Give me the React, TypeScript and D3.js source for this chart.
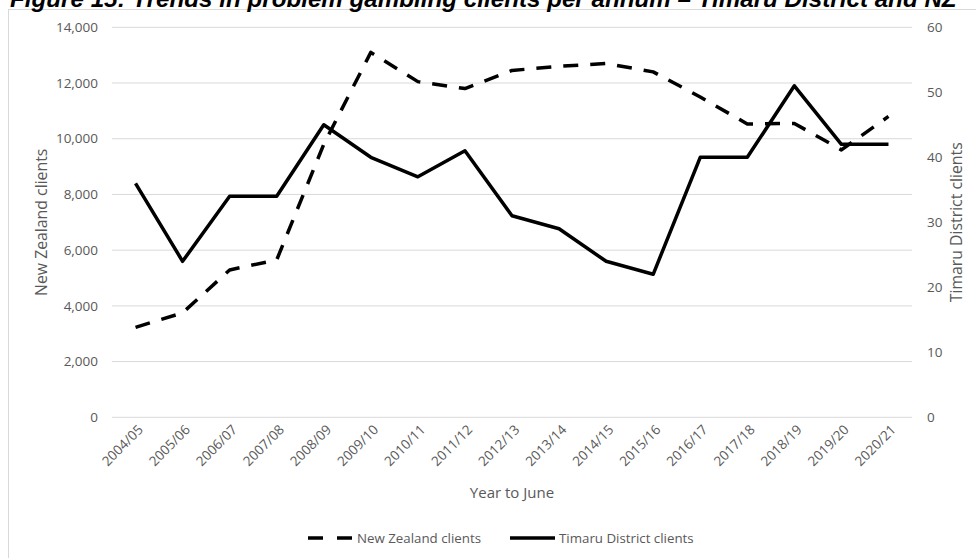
import React from "react";
import * as d3 from "d3";

// Financial years (year to June)
const years = [
  "2004/05", "2005/06", "2006/07", "2007/08", "2008/09", "2009/10",
  "2010/11", "2011/12", "2012/13", "2013/14", "2014/15", "2015/16",
  "2016/17", "2017/18", "2018/19", "2019/20", "2020/21",
];

// Problem gambling clients, New Zealand (left axis)
const nzClients = [
  3230, 3750, 5290, 5650, 9800, 13100, 12050, 11800, 12450,
  12600, 12700, 12400, 11500, 10530, 10550, 9600, 10800,
];

// Problem gambling clients, Timaru District (right axis)
const timaruClients = [
  36, 24, 34, 34, 45, 40, 37, 41, 31, 29, 24, 22, 40, 40, 51, 42, 42,
];

const leftTicks = [0, 2000, 4000, 6000, 8000, 10000, 12000, 14000];
const rightTicks = [0, 10, 20, 30, 40, 50, 60];

const W = 976;
const H = 558;
const plot = { left: 112, right: 912, top: 27.3, bottom: 417.3 };

const FONT = "'Open Sans', 'Noto Sans', sans-serif";
const GREY = "#595959";
const GRID = "#d9d9d9";

export default function App() {
  const x = d3.scalePoint<string>().domain(years).range([plot.left, plot.right]).padding(0.5);
  const yL = d3.scaleLinear().domain([0, 14000]).range([plot.bottom, plot.top]);
  const yR = d3.scaleLinear().domain([0, 60]).range([plot.bottom, plot.top]);

  const nzLine = d3
    .line<number>()
    .x((_, i) => x(years[i]) as number)
    .y((d) => yL(d));

  const timaruLine = d3
    .line<number>()
    .x((_, i) => x(years[i]) as number)
    .y((d) => yR(d));

  const fmt = d3.format(",");
  const midY = (plot.top + plot.bottom) / 2;
  const dash = "15 12";

  return (
    <svg
      width={W}
      height={H}
      style={{ position: "absolute", left: 0, top: 0, background: "#fff" }}
    >
      {/* chart frame */}
      <rect x={8.5} y={9.5} width={1000} height={600} fill="#fff" stroke={GRID} strokeWidth={1} />

      {/* title */}
      <text
        x={10}
        y={7}
        fontFamily="'Liberation Sans', Arial, sans-serif"
        fontWeight="bold"
        fontStyle="italic"
        fontSize={24.2}
        fill="#000"
      >
        Figure 15: Trends in problem gambling clients per annum – Timaru District and NZ
      </text>

      {/* gridlines */}
      {leftTicks.map((t) => (
        <line
          key={"g" + t}
          x1={plot.left}
          x2={plot.right}
          y1={yL(t)}
          y2={yL(t)}
          stroke={GRID}
          strokeWidth={1}
        />
      ))}

      {/* left axis labels */}
      {leftTicks.map((t) => (
        <text
          key={"l" + t}
          x={98}
          y={yL(t)}
          dy="0.35em"
          textAnchor="end"
          fontFamily={FONT}
          fontSize={13.5}
          fill={GREY}
        >
          {fmt(t)}
        </text>
      ))}

      {/* right axis labels */}
      {rightTicks.map((t) => (
        <text
          key={"r" + t}
          x={927}
          y={yR(t)}
          dy="0.35em"
          textAnchor="start"
          fontFamily={FONT}
          fontSize={13.5}
          fill={GREY}
        >
          {t}
        </text>
      ))}

      {/* category labels */}
      {years.map((yr) => (
        <text
          key={yr}
          transform={`translate(${(x(yr) as number) + 5},${plot.bottom + 10}) rotate(-45)`}
          textAnchor="end"
          dy="0.35em"
          fontFamily={FONT}
          fontSize={13.5}
          fill={GREY}
        >
          {yr}
        </text>
      ))}

      {/* axis titles */}
      <text
        x={(plot.left + plot.right) / 2}
        y={498}
        textAnchor="middle"
        fontFamily={FONT}
        fontSize={15}
        fill={GREY}
      >
        Year to June
      </text>
      <text
        transform={`translate(47,${midY}) rotate(-90)`}
        textAnchor="middle"
        fontFamily={FONT}
        fontSize={15.8}
        fill={GREY}
      >
        New Zealand clients
      </text>
      <text
        transform={`translate(962,${midY}) rotate(-90)`}
        textAnchor="middle"
        fontFamily={FONT}
        fontSize={15.8}
        fill={GREY}
      >
        Timaru District clients
      </text>

      {/* series */}
      <path
        d={nzLine(nzClients) ?? ""}
        fill="none"
        stroke="#000"
        strokeWidth={3.5}
        strokeDasharray={dash}
        strokeLinejoin="round"
      />
      <path
        d={timaruLine(timaruClients) ?? ""}
        fill="none"
        stroke="#000"
        strokeWidth={3.5}
        strokeLinejoin="round"
      />

      {/* legend */}
      <g fontFamily={FONT} fontSize={13.3} fill={GREY}>
        <line x1={308} x2={352} y1={538} y2={538} stroke="#000" strokeWidth={3.5} strokeDasharray="15 14" />
        <text x={357} y={538} dy="0.35em">New Zealand clients</text>
        <line x1={510} x2={555} y1={538} y2={538} stroke="#000" strokeWidth={3.5} />
        <text x={559} y={538} dy="0.35em">Timaru District clients</text>
      </g>
    </svg>
  );
}
